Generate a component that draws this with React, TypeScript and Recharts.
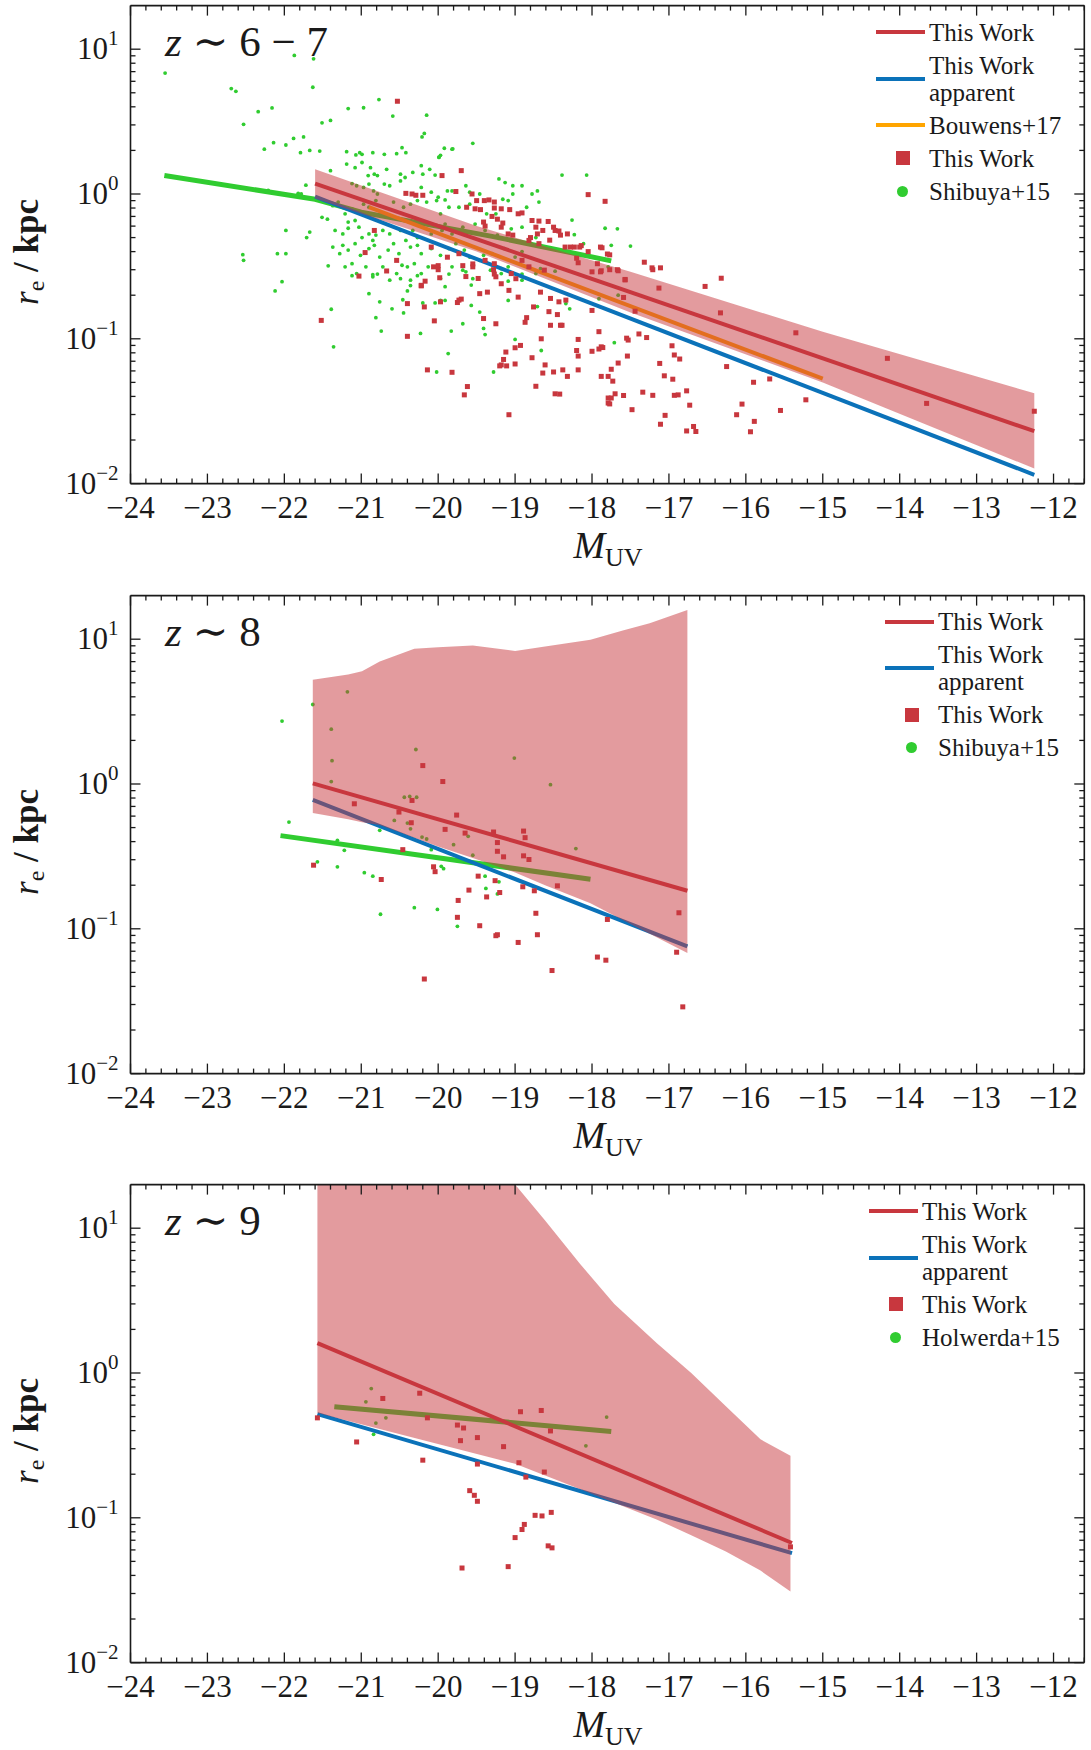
import React from "react";
import { Area, ComposedChart, Line, Scatter, XAxis, YAxis } from "recharts";

type Pt = [number, number];
type Band = [number, number, number];

const RED = "#c8373e";
const BLUE = "#0b72b9";
const ORANGE = "#ffa500";
const GREEN = "#30cc30";
const INK = "#1a1a1a";
const SERIF = "'Liberation Serif', 'DejaVu Serif', serif";

// ---- z ~ 6-7 ----
const p1Shibuya: Pt[] = [
  [-23.55, 6.84], [-22.69, 5.35], [-22.63, 5.12], [-21.63, 5.46], [-21.87, 9.05], [-21.62, 8.58], [-22.53, 3.03],
  [-22.34, 3.7], [-22.16, 3.93], [-22.26, 2.04], [-22.14, 2.26], [-21.98, 2.18], [-21.88, 2.42], [-21.75, 2.48],
  [-21.79, 1.93], [-21.67, 2.0], [-21.54, 1.98], [-21.51, 3.1], [-21.4, 3.22], [-21.17, 3.89], [-20.97, 3.94],
  [-20.77, 4.49], [-20.59, 3.45], [-20.15, 3.5], [-20.21, 2.48], [-20.18, 2.62], [-19.55, 2.24], [-19.81, 2.05],
  [-19.92, 2.07], [-19.99, 1.8], [-22.21, 1.06], [-21.82, 1.01], [-21.78, 1.0], [-21.72, 1.15], [-21.98, 0.56],
  [-21.71, 0.5], [-21.67, 0.546], [-22.54, 0.381], [-22.53, 0.348], [-22.09, 0.387], [-21.98, 0.387], [-21.43, 0.319],
  [-22.03, 0.248], [-21.57, 0.91],
  [-21.19, 1.96], [-21.07, 1.86], [-21.02, 1.93], [-20.99, 1.88], [-20.85, 1.93], [-20.7, 1.88], [-20.54, 1.9],
  [-20.42, 1.93], [-19.97, 1.85], [-19.99, 1.79], [-19.82, 2.04], [-20.47, 2.09],
  [-21.4, 1.45], [-21.19, 1.61], [-20.99, 1.65], [-20.88, 1.52], [-21.08, 1.52], [-20.67, 1.48], [-20.49, 1.37],
  [-20.83, 1.37], [-20.79, 1.34], [-20.22, 1.57], [-20.2, 1.37], [-20.11, 1.48], [-20.04, 1.35], [-20.33, 1.41],
  [-20.43, 1.3],
  [-21.12, 1.18], [-21.06, 1.14], [-20.97, 1.11], [-20.91, 1.34], [-20.9, 1.17], [-20.84, 1.05], [-20.79, 1.0],
  [-20.7, 1.17], [-20.63, 1.14], [-20.49, 1.23], [-20.22, 1.11], [-20.09, 1.03], [-20.0, 0.95], [-19.88, 1.05],
  [-19.82, 1.05], [-19.64, 1.14], [-19.59, 1.03], [-19.46, 1.0], [-19.21, 1.27], [-19.13, 1.2], [-19.03, 1.14],
  [-18.91, 1.14], [-18.78, 1.0], [-18.71, 1.05], [-19.03, 1.0],
  [-21.37, 0.83], [-21.3, 0.88], [-21.21, 0.73], [-21.12, 0.79], [-21.08, 0.656], [-21.17, 0.64], [-20.97, 0.85],
  [-20.9, 0.81], [-20.81, 0.9], [-20.74, 0.73], [-20.58, 0.88], [-20.45, 0.81], [-20.36, 0.85], [-20.27, 0.9],
  [-20.15, 0.88], [-20.02, 0.9], [-19.97, 0.73], [-19.86, 0.81], [-19.91, 0.91], [-19.73, 0.81], [-19.59, 0.85],
  [-19.37, 0.73], [-19.25, 0.73], [-19.16, 0.92], [-19.09, 0.9], [-18.85, 0.81], [-18.69, 0.88],
  [-21.51, 0.69], [-21.44, 0.67], [-21.34, 0.56], [-21.24, 0.53], [-21.17, 0.58], [-21.03, 0.59], [-20.99, 0.5],
  [-20.9, 0.53], [-20.85, 0.478], [-20.81, 0.52], [-20.72, 0.56], [-20.63, 0.53], [-20.49, 0.56], [-20.33, 0.56],
  [-20.27, 0.5], [-20.09, 0.53], [-19.95, 0.56], [-19.91, 0.62], [-19.82, 0.53], [-19.68, 0.59], [-19.52, 0.62],
  [-19.39, 0.56], [-19.23, 0.52], [-19.05, 0.575], [-18.91, 0.59], [-18.73, 0.5],
  [-21.37, 0.43], [-21.28, 0.387], [-21.24, 0.442], [-21.17, 0.41], [-21.08, 0.454], [-21.01, 0.377], [-20.9, 0.42],
  [-20.83, 0.442], [-20.76, 0.367], [-20.65, 0.41], [-20.58, 0.454], [-20.51, 0.387], [-20.42, 0.478], [-20.36, 0.43],
  [-20.27, 0.442], [-20.22, 0.387], [-20.09, 0.42], [-19.97, 0.377], [-19.86, 0.42], [-19.77, 0.454], [-19.66, 0.41],
  [-19.59, 0.367], [-19.41, 0.377], [-19.3, 0.387], [-19.14, 0.42], [-19.0, 0.367], [-18.91, 0.4],
  [-21.21, 0.314], [-21.12, 0.33], [-21.06, 0.282], [-20.94, 0.314], [-20.85, 0.268], [-20.72, 0.314], [-20.63, 0.254],
  [-20.54, 0.282], [-20.47, 0.322], [-20.4, 0.314], [-20.31, 0.33], [-20.36, 0.254], [-20.22, 0.282], [-20.13, 0.314],
  [-19.97, 0.261], [-19.91, 0.229], [-19.82, 0.314], [-19.68, 0.298], [-19.57, 0.235], [-19.46, 0.348], [-19.32, 0.298],
  [-19.18, 0.282], [-19.09, 0.314], [-18.91, 0.254], [-18.73, 0.282],
  [-22.12, 0.214], [-21.39, 0.16], [-21.36, 0.088], [-20.81, 0.14], [-20.74, 0.113], [-20.45, 0.151], [-20.46, 0.186],
  [-20.23, 0.109], [-19.83, 0.113], [-19.87, 0.079], [-20.02, 0.059], [-19.68, 0.127], [-19.41, 0.118], [-19.39, 0.107],
  [-19.28, 0.059], [-19.0, 0.099], [-18.66, 0.083], [-20.6, 0.161], [-20.9, 0.205], [-20.76, 0.18], [-20.4, 0.214],
  [-20.36, 0.233], [-20.2, 0.177], [-20.04, 0.177], [-19.97, 0.184], [-19.91, 0.184], [-19.57, 0.17], [-19.46, 0.153],
  [-19.09, 0.184], [-18.71, 0.167], [-21.12, 0.273], [-20.85, 0.277], [-20.79, 0.28], [-20.49, 0.26], [-20.27, 0.273],
  [-19.86, 0.28], [-19.64, 0.29], [-19.55, 0.26], [-19.18, 0.305], [-19.09, 0.25], [-18.91, 0.28], [-18.67, 0.305],
  [-18.39, 1.35], [-18.07, 1.35], [-18.26, 0.66], [-17.83, 0.58], [-17.67, 0.575], [-18.23, 0.524], [-18.11, 0.454],
  [-17.75, 0.442], [-17.5, 0.437], [-17.79, 0.314], [-18.48, 0.293], [-18.34, 0.175], [-18.29, 0.161], [-17.91, 0.189],
  [-17.71, 0.094], [-17.66, 0.2],
];

const p1Ours: Pt[] = [
  [-20.53, 4.37], [-19.95, 1.34], [-19.7, 1.45], [-20.42, 1.01], [-20.34, 1.0], [-20.29, 0.98], [-20.2, 0.98],
  [-19.77, 1.04], [-19.56, 1.0], [-19.5, 0.9], [-19.4, 0.9], [-19.34, 0.91], [-19.27, 0.88], [-19.63, 0.81],
  [-19.52, 0.79], [-19.45, 0.78], [-19.27, 0.8], [-19.18, 0.79], [-19.07, 0.78], [-18.96, 0.73], [-18.91, 0.74],
  [-19.3, 0.7], [-19.23, 0.67], [-19.16, 0.63], [-19.41, 0.64], [-19.39, 0.6], [-18.78, 0.656], [-18.69, 0.65],
  [-18.73, 0.59], [-18.64, 0.56], [-18.71, 0.53], [-18.8, 0.5], [-19.18, 0.59], [-19.09, 0.53], [-19.03, 0.52],
  [-18.82, 0.478], [-18.69, 0.454],
  [-20.83, 0.56], [-20.95, 0.394], [-21.03, 0.271], [-20.67, 0.294], [-20.54, 0.348], [-20.22, 0.232], [-20.09, 0.43],
  [-20.06, 0.314], [-19.98, 0.264], [-19.73, 0.387], [-19.55, 0.314], [-19.48, 0.261], [-19.39, 0.348], [-19.27, 0.33],
  [-19.25, 0.268], [-19.18, 0.24], [-19.05, 0.282], [-18.91, 0.348], [-18.82, 0.314], [-18.62, 0.298],
  [-20.22, 0.234], [-20.17, 0.25], [-20.0, 0.32], [-20.0, 0.3], [-20.4, 0.175], [-20.18, 0.166], [-19.97, 0.18],
  [-19.75, 0.178], [-19.73, 0.185], [-19.7, 0.188], [-19.88, 0.366], [-19.68, 0.32], [-19.64, 0.269], [-19.46, 0.205],
  [-19.36, 0.21], [-19.41, 0.138], [-19.25, 0.127], [-19.27, 0.28], [-19.28, 0.3], [-19.55, 0.329], [-18.99, 0.26],
  [-19.08, 0.216], [-18.96, 0.194], [-18.76, 0.166], [-18.85, 0.14], [-18.87, 0.13], [-18.67, 0.21], [-20.05, 0.133],
  [-20.4, 0.104], [-21.52, 0.134], [-20.14, 0.061], [-19.82, 0.0587], [-19.62, 0.0468], [-19.66, 0.041], [-19.08, 0.0299],
  [-19.12, 0.081], [-19.0, 0.0867], [-18.93, 0.09], [-19.15, 0.072], [-19.18, 0.066], [-19.2, 0.065], [-19.11, 0.065],
  [-19.0, 0.067], [-18.78, 0.074], [-18.73, 0.047], [-18.66, 0.1], [-18.64, 0.058],
  [-18.54, 0.19], [-18.43, 0.18], [-18.34, 0.185], [-18.56, 0.154], [-18.45, 0.147], [-18.54, 0.124], [-18.41, 0.124],
  [-18.39, 0.124], [-18.61, 0.066], [-18.5, 0.059], [-18.38, 0.061], [-18.32, 0.055], [-18.48, 0.0417], [-18.42, 0.0415],
  [-18.18, 0.099], [-18.2, 0.083], [-18.18, 0.076], [-18.18, 0.061], [-18.0, 0.157], [-17.91, 0.112], [-17.88, 0.088],
  [-17.91, 0.085], [-17.86, 0.087], [-18.0, 0.082], [-17.88, 0.055], [-17.79, 0.055], [-17.79, 0.039], [-17.75, 0.039],
  [-17.79, 0.036], [-17.77, 0.0355], [-17.7, 0.0417], [-17.59, 0.0406], [-17.73, 0.051], [-17.75, 0.0616], [-17.66, 0.068],
  [-17.54, 0.076], [-17.57, 0.255], [-17.66, 0.295], [-17.77, 0.38], [-17.88, 0.295], [-18.0, 0.29], [-17.59, 0.193],
  [-17.44, 0.155], [-17.55, 0.101], [-17.53, 0.098], [-17.39, 0.108], [-17.29, 0.102], [-17.48, 0.0324], [-17.34, 0.0428],
  [-17.21, 0.0407], [-17.11, 0.0257], [-17.05, 0.0296], [-17.12, 0.0676], [-17.06, 0.0555], [-16.96, 0.0895],
  [-16.95, 0.0526], [-16.93, 0.0773], [-16.86, 0.0725], [-16.93, 0.0407], [-16.88, 0.041], [-16.77, 0.0437],
  [-16.73, 0.0348], [-16.77, 0.0231], [-16.68, 0.0248], [-16.65, 0.0229], [-17.13, 0.224], [-17.32, 0.338],
  [-17.22, 0.309], [-17.21, 0.3], [-17.11, 0.309], [-16.53, 0.23], [-16.32, 0.262], [-16.33, 0.151], [-16.25, 0.0643],
  [-16.05, 0.0354], [-16.12, 0.0299], [-15.9, 0.0501], [-15.89, 0.0269], [-15.94, 0.0228], [-15.69, 0.0528],
  [-15.55, 0.032], [-15.35, 0.11], [-15.22, 0.0379], [-14.16, 0.0733], [-13.65, 0.0358], [-12.25, 0.0316],
  [-18.05, 0.99], [-17.83, 0.89], [-18.57, 0.646], [-18.5, 0.59], [-18.48, 0.56], [-18.43, 0.555], [-18.41, 0.52],
  [-18.32, 0.53], [-18.55, 0.48], [-18.35, 0.43], [-18.28, 0.43], [-18.23, 0.43], [-18.16, 0.43], [-18.14, 0.44],
  [-18.05, 0.4], [-17.89, 0.43], [-17.87, 0.425], [-18.2, 0.36], [-18.18, 0.335], [-17.93, 0.33], [-17.89, 0.29],
  [-17.8, 0.385], [-17.77, 0.3], [-17.67, 0.3], [-17.57, 0.257],
];

const p1FitRed: Pt[] = [[-21.6, 1.18], [-12.25, 0.023]];
const p1FitBlue: Pt[] = [[-21.6, 0.96], [-12.25, 0.0115]];
const p1Bouwens: Pt[] = [[-20.9, 0.81], [-15.0, 0.053]];
const p1ShibuyaFit: Pt[] = [[-23.56, 1.34], [-21.6, 0.92], [-21.0, 0.75], [-19.3, 0.51], [-17.75, 0.345]];
// [M_UV, lower, upper]
const p1Band: Band[] = [
  [-21.6, 0.93, 1.48], [-19.5, 0.4, 0.6], [-17.5, 0.152, 0.29], [-15.0, 0.05, 0.112], [-12.25, 0.0127, 0.042],
];

// ---- z ~ 8 ----
const p2Shibuya: Pt[] = [
  [-22.03, 2.72], [-21.63, 3.54], [-21.18, 4.33], [-21.39, 2.39], [-21.38, 1.45], [-21.39, 1.04], [-20.29, 1.73],
  [-19.01, 1.51], [-21.94, 0.546], [-20.44, 0.81], [-20.37, 0.82], [-20.28, 0.81], [-20.57, 0.56], [-20.4, 0.537],
  [-20.36, 0.49], [-20.76, 0.479], [-20.21, 0.43], [-20.15, 0.417], [-21.31, 0.408], [-21.22, 0.348], [-20.09, 0.352],
  [-19.8, 0.381], [-19.61, 0.435], [-19.55, 0.322], [-20.96, 0.244], [-20.85, 0.231], [-21.57, 0.29], [-21.31, 0.268],
  [-19.96, 0.27], [-19.93, 0.26], [-19.39, 0.231], [-19.21, 0.211], [-19.38, 0.19], [-19.23, 0.174], [-20.75, 0.126],
  [-20.31, 0.14], [-20.01, 0.136], [-19.75, 0.104], [-18.54, 0.99], [-18.21, 0.358],
];
const p2Ours: Pt[] = [
  [-20.2, 1.34], [-19.94, 1.04], [-21.09, 0.73], [-20.34, 0.77], [-20.51, 0.64], [-20.35, 0.54], [-19.76, 0.61],
  [-19.91, 0.486], [-19.65, 0.458], [-19.28, 0.466], [-18.89, 0.473], [-18.87, 0.426], [-19.23, 0.394], [-19.23, 0.343],
  [-19.15, 0.314], [-18.89, 0.319], [-18.82, 0.301], [-20.46, 0.352], [-21.62, 0.275], [-20.74, 0.219], [-20.06, 0.268],
  [-20.04, 0.248], [-19.48, 0.231], [-19.26, 0.215], [-19.74, 0.157], [-19.75, 0.12], [-19.6, 0.185], [-19.46, 0.105],
  [-19.37, 0.166], [-19.25, 0.0896], [-19.23, 0.091], [-18.96, 0.0805], [-19.2, 0.178], [-18.9, 0.195], [-18.75, 0.183],
  [-18.73, 0.128], [-18.71, 0.091], [-20.18, 0.045], [-18.45, 0.198], [-17.8, 0.116], [-17.93, 0.0638], [-17.82, 0.0607],
  [-18.52, 0.0515], [-16.87, 0.129], [-16.9, 0.0689], [-16.82, 0.0289],
];
const p2FitRed: Pt[] = [[-21.63, 1.01], [-16.76, 0.183]];
const p2FitBlue: Pt[] = [[-21.63, 0.776], [-16.76, 0.0756]];
const p2ShibuyaFit: Pt[] = [[-22.05, 0.44], [-18.02, 0.22]];
const p2Band: Band[] = [
  [-21.63, 0.63, 5.25], [-21.17, 0.57, 5.7], [-20.99, 0.545, 6.0], [-20.76, 0.52, 7.0], [-20.31, 0.425, 8.6],
  [-20.0, 0.37, 8.8], [-19.55, 0.308, 9.05], [-19.0, 0.245, 8.3], [-18.61, 0.2, 8.9], [-18.02, 0.15, 9.9],
  [-17.6, 0.115, 11.5], [-17.25, 0.0925, 12.9], [-16.76, 0.068, 15.9],
];

// ---- z ~ 9 ----
const p3Holwerda: Pt[] = [
  [-20.87, 0.78], [-20.94, 0.632], [-20.68, 0.49], [-20.81, 0.451], [-20.84, 0.377], [-17.81, 0.496], [-18.08, 0.314],
];
const p3Ours: Pt[] = [
  [-21.57, 0.49], [-21.06, 0.334], [-20.72, 0.667], [-20.24, 0.725], [-20.14, 0.49], [-20.2, 0.25], [-19.75, 0.437],
  [-19.67, 0.417], [-19.71, 0.341], [-19.49, 0.358], [-19.49, 0.235], [-19.15, 0.31], [-18.93, 0.54], [-18.66, 0.551],
  [-18.95, 0.24], [-18.86, 0.191], [-18.62, 0.207], [-19.59, 0.154], [-19.53, 0.143], [-19.49, 0.13], [-18.74, 0.104],
  [-18.65, 0.103], [-18.88, 0.09], [-18.91, 0.083], [-19.0, 0.073], [-19.69, 0.045], [-19.09, 0.046], [-18.53, 0.109],
  [-18.57, 0.064], [-18.52, 0.062], [-18.54, 0.398], [-15.42, 0.063],
];
const p3FitRed: Pt[] = [[-21.57, 1.61], [-15.4, 0.067]];
const p3FitBlue: Pt[] = [[-21.57, 0.52], [-15.4, 0.057]];
const p3HolwerdaFit: Pt[] = [[-21.35, 0.585], [-17.75, 0.395]];
const p3Band: Band[] = [
  [-21.57, 0.53, 20], [-19.0, 0.236, 20], [-18.61, 0.196, 11.3], [-18.16, 0.158, 5.7], [-17.71, 0.127, 3.0],
  [-17.16, 0.0975, 1.61], [-16.71, 0.0757, 1.0], [-16.26, 0.0585, 0.59], [-15.81, 0.0432, 0.348], [-15.42, 0.031, 0.268],
];

// axes
const X_DOMAIN: [number, number] = [-24, -11.6];
const Y_DOMAIN: [number, number] = [0.01, 20];
const xMajor = [-24, -23, -22, -21, -20, -19, -18, -17, -16, -15, -14, -13, -12];
const yDecades = [0.01, 0.1, 1, 10];

const xTicks: number[] = [];
xMajor.forEach((m) => {
  for (let k = 0; k < 5; k++) xTicks.push(Math.round((m + 0.2 * k) * 10) / 10);
});
const yTicks: number[] = [];
yDecades.forEach((d) => {
  const top = d === 10 ? 1 : 9;
  for (let k = 1; k <= top; k++) yTicks.push(+(k * d).toPrecision(3));
});

const xy = (pts: Pt[]) => pts.map(([x, y]) => ({ x, y }));
const band = (b: Band[]) => b.map(([x, lo, hi]) => ({ x, range: [lo, hi] }));

const isMajorX = (v: number) => Math.abs(v - Math.round(v)) < 1e-6;
const isMajorY = (v: number) => Math.abs(Math.log10(v) - Math.round(Math.log10(v))) < 1e-6;
const minus = (v: number) => (v < 0 ? "\u2212" + Math.abs(v) : String(v));

const MAJ = 10;
const MIN = 5;

function BottomTick(p: any) {
  const v = p.payload.value;
  const major = isMajorX(v);
  return (
    <g>
      <line x1={p.x} x2={p.x} y1={p.y} y2={p.y - (major ? MAJ : MIN)} stroke={INK} strokeWidth={1.3} />
      {major && (
        <text x={p.x} y={p.y + 34} textAnchor="middle" fontSize={31} fontFamily={SERIF} fill={INK}>
          {minus(v)}
        </text>
      )}
    </g>
  );
}

function TopTick(p: any) {
  const major = isMajorX(p.payload.value);
  return <line x1={p.x} x2={p.x} y1={p.y} y2={p.y + (major ? MAJ : MIN)} stroke={INK} strokeWidth={1.3} />;
}

function LeftTick(p: any) {
  const v = p.payload.value;
  const major = isMajorY(v);
  const exp = Math.round(Math.log10(v));
  return (
    <g>
      <line x1={p.x} x2={p.x + (major ? MAJ : MIN)} y1={p.y} y2={p.y} stroke={INK} strokeWidth={1.3} />
      {major && (
        <text x={p.x - 12} y={p.y + 10} textAnchor="end" fontSize={31} fontFamily={SERIF} fill={INK}>
          10
          <tspan dy={-14} fontSize={21}>
            {minus(exp)}
          </tspan>
        </text>
      )}
    </g>
  );
}

function RightTick(p: any) {
  const major = isMajorY(p.payload.value);
  return <line x1={p.x} x2={p.x - (major ? MAJ : MIN)} y1={p.y} y2={p.y} stroke={INK} strokeWidth={1.3} />;
}

const redSquare = (p: any) =>
  p.cx == null ? <g /> : <rect x={p.cx - 2.5} y={p.cy - 2.5} width={5} height={5} fill={RED} />;
const greenDot = (p: any) => (p.cx == null ? <g /> : <circle cx={p.cx} cy={p.cy} r={1.9} fill={GREEN} />);

type LegendItem = { kind: "line" | "square" | "dot"; color: string; text: string[] };

function LegendBox({ left, top, items }: { left: number; top: number; items: LegendItem[] }) {
  return (
    <div style={{ position: "absolute", left, top, display: "flex", flexDirection: "column", gap: 6 }}>
      {items.map((it, i) => (
        <div key={i} style={{ display: "flex", alignItems: "center" }}>
          <div style={{ width: 53, display: "flex", justifyContent: "center", alignItems: "center" }}>
            {it.kind === "line" && <div style={{ width: 49, height: 4, background: it.color, marginRight: 4 }} />}
            {it.kind === "square" && <div style={{ width: 14, height: 14, background: it.color }} />}
            {it.kind === "dot" && <div style={{ width: 11, height: 11, borderRadius: 6, background: it.color }} />}
          </div>
          <div style={{ fontFamily: SERIF, fontSize: 25, lineHeight: "27px", color: INK }}>
            {it.text.map((t, j) => (
              <div key={j}>{t}</div>
            ))}
          </div>
        </div>
      ))}
    </div>
  );
}

type PanelProps = {
  top: number;
  title: React.ReactNode;
  others: Pt[];
  ours: Pt[];
  fitRed: Pt[];
  fitBlue: Pt[];
  othersFit: Pt[];
  bouwens?: Pt[];
  bandPts: Band[];
  legendLeft: number;
  legend: LegendItem[];
};

const frame = { stroke: INK, strokeWidth: 1.6 };

function Panel(pr: PanelProps) {
  return (
    <div style={{ position: "absolute", left: 0, top: pr.top, width: 1091, height: 590 }}>
      <ComposedChart width={1091} height={590} margin={{ top: 4.6, right: 5.7, bottom: 105.4, left: 129.5 }}>
        <XAxis xAxisId="b" dataKey="x" type="number" domain={X_DOMAIN} allowDataOverflow ticks={xTicks} interval={0}
          height={1} tickSize={0} tickMargin={0} tickLine={false} axisLine={frame} tick={BottomTick} />
        <XAxis xAxisId="t" orientation="top" dataKey="x" type="number" domain={X_DOMAIN} allowDataOverflow ticks={xTicks}
          interval={0} height={1} tickSize={0} tickMargin={0} tickLine={false} axisLine={frame} tick={TopTick} />
        <YAxis yAxisId="l" type="number" scale="log" domain={Y_DOMAIN} allowDataOverflow ticks={yTicks} interval={0}
          width={1} tickSize={0} tickMargin={0} tickLine={false} axisLine={frame} tick={LeftTick} />
        <YAxis yAxisId="r" orientation="right" type="number" scale="log" domain={Y_DOMAIN} allowDataOverflow ticks={yTicks}
          interval={0} width={1} tickSize={0} tickMargin={0} tickLine={false} axisLine={frame} tick={RightTick} />
        <Scatter xAxisId="b" yAxisId="l" data={xy(pr.others)} dataKey="y" shape={greenDot} isAnimationActive={false} zIndex={101} />
        <Line xAxisId="b" yAxisId="l" data={xy(pr.othersFit)} dataKey="y" type="linear" stroke={GREEN} strokeWidth={5} dot={false} activeDot={false} isAnimationActive={false} zIndex={102} />
        <Line xAxisId="b" yAxisId="l" data={xy(pr.fitBlue)} dataKey="y" type="linear" stroke={BLUE} strokeWidth={4} dot={false} activeDot={false} isAnimationActive={false} zIndex={103} />
        {pr.bouwens && (
          <Line xAxisId="b" yAxisId="l" data={xy(pr.bouwens)} dataKey="y" type="linear" stroke={ORANGE} strokeWidth={4} dot={false} activeDot={false} isAnimationActive={false} zIndex={104} />
        )}
        <Area xAxisId="b" yAxisId="l" data={band(pr.bandPts)} dataKey="range" type="linear" stroke="none" fill={RED} fillOpacity={0.5} dot={false} activeDot={false} isAnimationActive={false} zIndex={105} />
        <Line xAxisId="b" yAxisId="l" data={xy(pr.fitRed)} dataKey="y" type="linear" stroke={RED} strokeWidth={4} dot={false} activeDot={false} isAnimationActive={false} zIndex={106} />
        <Scatter xAxisId="b" yAxisId="l" data={xy(pr.ours)} dataKey="y" shape={redSquare} isAnimationActive={false} zIndex={107} />
      </ComposedChart>
      <div style={{ position: "absolute", left: 165, top: 16, fontFamily: SERIF, fontSize: 43, color: INK, whiteSpace: "nowrap" }}>
        {pr.title}
      </div>
      <div
        style={{
          position: "absolute",
          left: 28,
          top: 252,
          transform: "translate(-50%, -50%) rotate(-90deg)",
          fontFamily: SERIF,
          fontSize: 35,
          color: INK,
          whiteSpace: "nowrap",
        }}
      >
        <i>r</i>
        <span style={{ fontSize: 24, verticalAlign: "-6px" }}>e</span> <b>/ kpc</b>
      </div>
      <div
        style={{
          position: "absolute",
          left: 608,
          top: 548,
          transform: "translate(-50%, -50%)",
          fontFamily: SERIF,
          fontSize: 38,
          color: INK,
          whiteSpace: "nowrap",
        }}
      >
        <i>M</i>
        <span style={{ fontSize: 26, verticalAlign: "-8px" }}>UV</span>
      </div>
      <LegendBox left={pr.legendLeft} top={18.5} items={pr.legend} />
    </div>
  );
}

const legendFit: LegendItem[] = [
  { kind: "line", color: RED, text: ["This Work"] },
  { kind: "line", color: BLUE, text: ["This Work", "apparent"] },
];

export default function App() {
  return (
    <div style={{ position: "absolute", left: 0, top: 0, width: 1091, height: 1750, background: "#fff", overflow: "hidden" }}>
      <Panel
        top={0}
        title={<><i>z</i> ∼ 6 − 7</>}
        others={p1Shibuya}
        ours={p1Ours}
        fitRed={p1FitRed}
        fitBlue={p1FitBlue}
        othersFit={p1ShibuyaFit}
        bouwens={p1Bouwens}
        bandPts={p1Band}
        legendLeft={876}
        legend={[
          ...legendFit,
          { kind: "line", color: ORANGE, text: ["Bouwens+17"] },
          { kind: "square", color: RED, text: ["This Work"] },
          { kind: "dot", color: GREEN, text: ["Shibuya+15"] },
        ]}
      />
      <Panel
        top={589.5}
        title={<><i>z</i> ∼ 8</>}
        others={p2Shibuya}
        ours={p2Ours}
        fitRed={p2FitRed}
        fitBlue={p2FitBlue}
        othersFit={p2ShibuyaFit}
        bandPts={p2Band}
        legendLeft={885}
        legend={[
          ...legendFit,
          { kind: "square", color: RED, text: ["This Work"] },
          { kind: "dot", color: GREEN, text: ["Shibuya+15"] },
        ]}
      />
      <Panel
        top={1179}
        title={<><i>z</i> ∼ 9</>}
        others={p3Holwerda}
        ours={p3Ours}
        fitRed={p3FitRed}
        fitBlue={p3FitBlue}
        othersFit={p3HolwerdaFit}
        bandPts={p3Band}
        legendLeft={869}
        legend={[
          ...legendFit,
          { kind: "square", color: RED, text: ["This Work"] },
          { kind: "dot", color: GREEN, text: ["Holwerda+15"] },
        ]}
      />
    </div>
  );
}
